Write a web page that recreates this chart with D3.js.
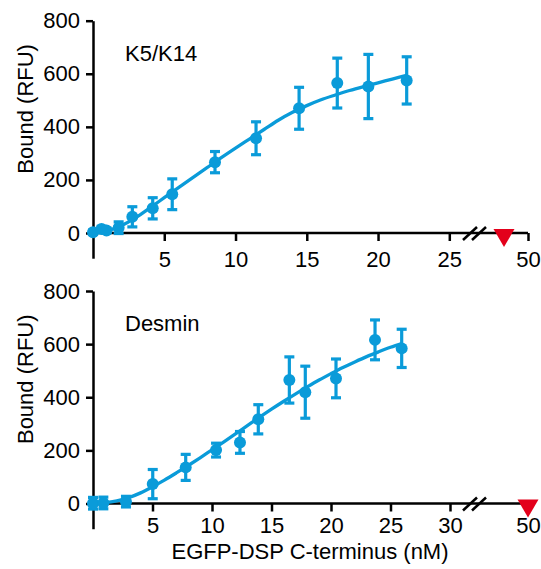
<!DOCTYPE html>
<html>
<head>
<meta charset="utf-8">
<script src="https://cdn.jsdelivr.net/npm/d3@7"></script>
<style>
  body { margin: 0; background: #fff; }
  svg text { font-family: "Liberation Sans", Arial, sans-serif; fill: #000; }
</style>
</head>
<body>
<div id="chart"></div>
<script>
// Data (concentration in nM, bound in RFU)
const k5Conc = [0, 0.6, 0.95, 1.8, 2.76, 4.19, 5.56, 8.56, 11.44, 14.46, 17.14, 19.32, 22.01];
const k5Bound = [3, 15, 9, 20, 61, 93, 146, 267, 357, 470, 565, 552, 575];
const k5Err = [8, 10, 8, 22, 38, 40, 58, 40, 62, 79, 94, 121, 89];
const k5FitConc = [0, 1, 2, 3, 4, 5, 6, 7, 8, 9, 10, 11, 12, 13, 14, 15, 16, 17, 18, 19, 20, 21, 22];
const k5FitBound = [0, 8, 28, 58, 95, 133, 171, 209, 246, 284, 320, 355, 390, 425, 455, 480, 502, 520, 537, 552, 566, 580, 594];
const k5Ticks = [5, 10, 15, 20, 25];
const k5Marker = 44;

const desConc = [0, 0.87, 2.77, 5.02, 7.79, 10.34, 12.35, 13.89, 16.5, 17.84, 20.42, 23.7, 25.94];
const desBound = [1, 2, 7, 73, 136, 201, 230, 317, 465, 419, 471, 616, 584];
const desErr = [22, 22, 20, 55, 49, 26, 41, 55, 87, 98, 73, 75, 72];
const desFitConc = [0, 1, 2, 3, 4, 5, 6, 7, 8, 9, 10, 11, 12, 13, 14, 15, 16, 17, 18, 19, 20, 21, 22, 23, 24, 25, 26];
const desFitBound = [0, 3, 10, 22, 40, 63, 88, 115, 143, 172, 202, 232, 263, 294, 325, 355, 384, 412, 439, 465, 489, 512, 533, 553, 571, 588, 603];
const desTicks = [5, 10, 15, 20, 25, 30];
const desMarker = 50;

const yTicks = [0, 200, 400, 600, 800];
const breakTicks = [50];

const width = 541;
const height = 569;
const blue = "#0a9bd9";
const red = "#e3001b";

const svg = d3.select("#chart").append("svg")
    .attr("width", width)
    .attr("height", height);

// one panel of the figure
function drawPanel(cfg) {
    const g = svg.append("g");
    const pxPerUnit = (cfg.yBottom - cfg.yTop) / 800;

    const y = d3.scaleLinear()
        .domain([-95, 800])
        .range([cfg.yBottom + 95 * pxPerUnit, cfg.yTop]);

    const x = d3.scaleLinear()
        .domain([0, cfg.ticks[cfg.ticks.length - 1]])
        .range([93, cfg.xEnd]);

    // segment after the axis break
    const x2 = d3.scaleLinear()
        .domain([40, 50])
        .range([488, 528]);

    // y axis
    g.append("g")
        .attr("transform", "translate(93,0)")
        .call(d3.axisLeft(y).tickValues(yTicks).tickSize(7).tickSizeOuter(0).tickPadding(6))
        .call(a => a.selectAll("text").style("font-size", "22px"));

    // x axis (broken)
    const xAxis = g.append("g")
        .attr("transform", `translate(0,${y(0)})`);
    xAxis.append("g")
        .call(d3.axisBottom(x).tickValues(cfg.ticks).tickSize(8).tickPadding(cfg.tickPad))
        .call(a => a.select(".domain").remove());
    xAxis.append("g")
        .call(d3.axisBottom(x2).tickValues(breakTicks).tickSize(8).tickPadding(cfg.tickPad))
        .call(a => a.select(".domain").remove());
    xAxis.selectAll("text").style("font-size", "22px");
    xAxis.append("line")
        .attr("x1", x(0)).attr("x2", x2(50))
        .attr("stroke", "#000");
    // break marks
    [470, 479].forEach(cx => {
        xAxis.append("line")
            .attr("x1", cx - 7).attr("y1", 7)
            .attr("x2", cx + 7).attr("y2", -6)
            .attr("stroke", "#000")
            .attr("stroke-width", 2.3);
    });

    g.selectAll(".domain, .tick line, line").attr("stroke-width", 2.5);

    // fitted curve
    g.append("path")
        .datum(d3.zip(cfg.fitConc, cfg.fitBound))
        .attr("fill", "none")
        .attr("stroke", blue)
        .attr("stroke-width", 3.3)
        .attr("d", d3.line()
            .x(d => x(d[0]))
            .y(d => y(d[1]))
            .curve(d3.curveMonotoneX));

    const pts = cfg.conc.map((c, i) => ({ c, b: cfg.bound[i], e: cfg.err[i] }));

    // error bars
    const eb = g.selectAll(".err").data(pts).enter().append("g")
        .attr("stroke", blue)
        .attr("stroke-width", 3.2);
    eb.append("line")
        .attr("x1", d => x(d.c)).attr("x2", d => x(d.c))
        .attr("y1", d => y(d.b - d.e)).attr("y2", d => y(d.b + d.e));
    eb.append("line")
        .attr("x1", d => x(d.c) - 5).attr("x2", d => x(d.c) + 5)
        .attr("y1", d => y(d.b + d.e)).attr("y2", d => y(d.b + d.e));
    eb.append("line")
        .attr("x1", d => x(d.c) - 5).attr("x2", d => x(d.c) + 5)
        .attr("y1", d => y(d.b - d.e)).attr("y2", d => y(d.b - d.e));

    // points
    g.selectAll(".pt").data(pts).enter().append("circle")
        .attr("cx", d => x(d.c))
        .attr("cy", d => y(d.b))
        .attr("r", 6)
        .attr("fill", blue);

    // red marker on the axis
    g.append("path")
        .attr("d", d3.symbol(d3.symbolTriangle, 190)())
        .attr("transform", `translate(${x2(cfg.marker)},${y(0) + 2}) rotate(180)`)
        .attr("fill", red);

    // labels
    g.append("text")
        .attr("transform", `translate(33,${y(400) - 18}) rotate(-90)`)
        .attr("text-anchor", "middle")
        .style("font-size", "22px")
        .text("Bound (RFU)");

    g.append("text")
        .attr("x", 125)
        .attr("y", y(800) + 40)
        .style("font-size", "22px")
        .text(cfg.title);
}

drawPanel({
    title: "K5/K14",
    yTop: 20.7, yBottom: 233,
    ticks: k5Ticks, xEnd: 449.3, tickPad: 10,
    conc: k5Conc, bound: k5Bound, err: k5Err,
    fitConc: k5FitConc, fitBound: k5FitBound,
    marker: k5Marker
});

drawPanel({
    title: "Desmin",
    yTop: 291, yBottom: 503.5,
    ticks: desTicks, xEnd: 450, tickPad: 6,
    conc: desConc, bound: desBound, err: desErr,
    fitConc: desFitConc, fitBound: desFitBound,
    marker: desMarker
});

svg.append("text")
    .attr("x", 310)
    .attr("y", 558.5)
    .attr("text-anchor", "middle")
    .style("font-size", "22px")
    .text("EGFP-DSP C-terminus (nM)");
</script>
</body>
</html>
